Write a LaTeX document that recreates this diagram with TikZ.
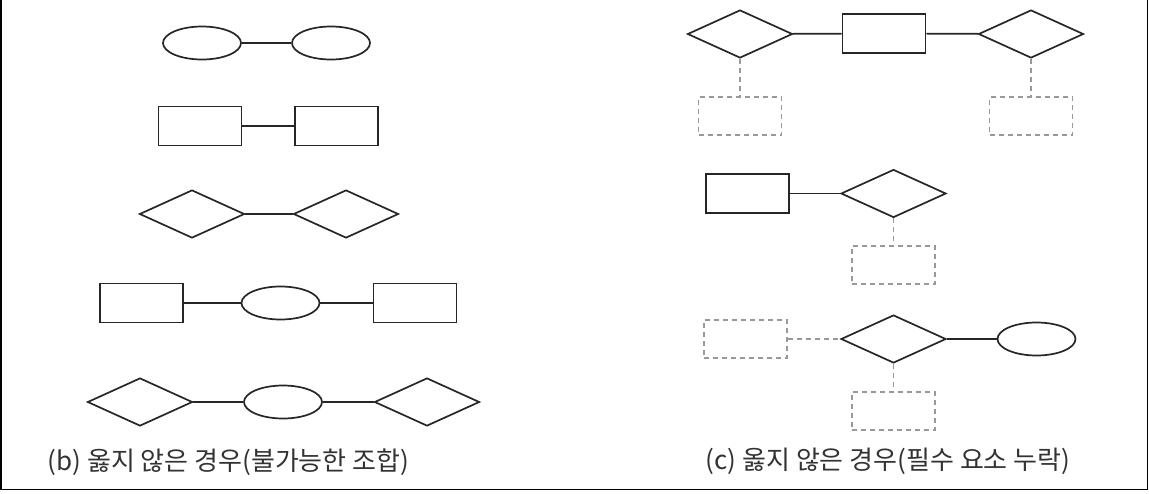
\documentclass[tikz,border=0pt]{standalone}
\usepackage{fontspec}
\setmainfont{Noto Sans CJK KR}
\usetikzlibrary{shapes.geometric}
\usetikzlibrary{positioning}

\tikzset{
    ent/.style={draw=black!85, line width=0.85pt, rectangle, minimum width=41.5pt, minimum height=19.5pt, inner sep=0pt},
    rel/.style={draw=black!85, line width=0.85pt, diamond, minimum width=52.5pt, minimum height=24pt, inner sep=0pt},
    attr/.style={draw=black!85, line width=0.85pt, ellipse, minimum width=39pt, minimum height=16.5pt, inner sep=0pt},
    miss/.style={draw=black!40, line width=0.7pt, dash pattern=on 2.5pt off 2pt, rectangle, minimum width=41.5pt, minimum height=19pt, inner sep=0pt},
    link/.style={draw=black!85, line width=0.85pt},
    misslink/.style={draw=black!40, line width=0.7pt, dash pattern=on 2.5pt off 2pt},
    caption/.style={font=\fontsize{13pt}{15pt}\selectfont, text=black!80, inner sep=0pt}
}

\begin{document}
\begin{tikzpicture}[x=0.5pt, y=-0.5pt]
    \useasboundingbox (0,0) rectangle (1149,493);
    \draw[line width=0.9pt] (1,0) -- (1,489.5) -- (1147.5,489.5) -- (1147.5,0);

    % (b)
    \node[attr] (e1) at (202,43) {};
    \node[attr] (e2) at (331,43) {};
    \node[ent] (r1) at (200,126) {};
    \node[ent] (r2) at (336.5,126) {};
    \node[rel] (d1) at (192,214) {};
    \node[rel] (d2) at (346,214) {};
    \node[ent] (r3) at (141.5,303) {};
    \node[attr] (e3) at (280.5,303) {};
    \node[ent] (r4) at (415,303) {};
    \node[rel] (d3) at (140,402) {};
    \node[attr] (e4) at (283,402) {};
    \node[rel] (d4) at (427,402) {};
    \node[caption] (capb) at (228.5,462) {(b) 옳지 않은 경우(불가능한 조합)};

    \draw[link] (e1) -- (e2);
    \draw[link] (r1) -- (r2);
    \draw[link] (d1) -- (d2);
    \draw[link] (r3) -- (e3);
    \draw[link] (e3) -- (r4);
    \draw[link] (d3) -- (e4);
    \draw[link] (e4) -- (d4);

    % (c)
    \node[rel] (d5) at (740,34) {};
    \node[ent] (r5) at (884,33.5) {};
    \node[rel] (d6) at (1031,34) {};
    \node[miss] (m1) at (740,116) {};
    \node[miss] (m2) at (1031,116) {};
    \node[ent] (r6) at (747.5,193.5) {};
    \node[rel] (d7) at (893.5,193.5) {};
    \node[miss] (m3) at (893.5,265) {};
    \node[miss] (m4) at (745.5,339) {};
    \node[rel] (d8) at (893.5,339) {};
    \node[attr] (e5) at (1036.5,339) {};
    \node[miss] (m5) at (893.5,411) {};
    \node[caption] (capc) at (888,461) {(c) 옳지 않은 경우(필수 요소 누락)};

    \draw[link] (d5) -- (r5);
    \draw[link] (r5) -- (d6);
    \draw[misslink] (d5) -- (m1);
    \draw[misslink] (d6) -- (m2);
    \draw[link] (r6) -- (d7);
    \draw[misslink] (d7) -- (m3);
    \draw[misslink] (m4) -- (d8);
    \draw[link] (d8) -- (e5);
    \draw[misslink] (d8) -- (m5);
\end{tikzpicture}
\end{document}
